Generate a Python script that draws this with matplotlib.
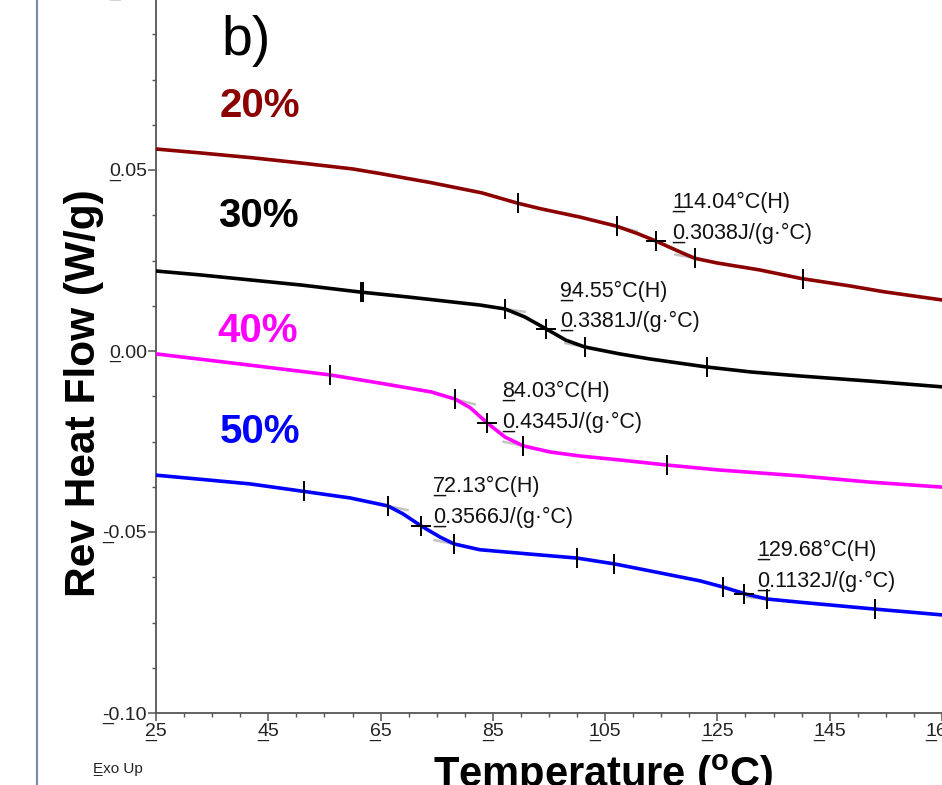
import numpy as np
import matplotlib
matplotlib.use("Agg")
import matplotlib.pyplot as plt
from matplotlib.transforms import IdentityTransform
from matplotlib.lines import Line2D

plt.rcParams['font.family'] = ['Liberation Sans', 'DejaVu Sans']
plt.rcParams['axes.unicode_minus'] = False
plt.rcParams['mathtext.fontset'] = 'custom'
plt.rcParams['mathtext.rm'] = 'Liberation Sans'
plt.rcParams['mathtext.bf'] = 'Liberation Sans:bold'

# ---------------- data ----------------
x_ticks = [25, 45, 65, 85, 105, 125, 145, 165]
x_ticklabels = ["25", "45", "65", "85", "105", "125", "145", "165"]
y_ticks = [-0.10, -0.05, 0.00, 0.05, 0.10]
y_ticklabels = ["-0.10", "-0.05", "0.00", "0.05", "0.10"]

series_names = ["20%", "30%", "40%", "50%"]
series_colors = ["#8b0000", "#000000", "#ff00ff", "#0000ff"]

T_20 = [25, 33, 42, 51, 60, 65, 74, 83, 89.5, 93.5, 100.5, 107, 111, 114, 118, 121, 125, 132.5, 140, 148.5, 154.5, 165]
V_20 = [0.0558, 0.0547, 0.0534, 0.0519, 0.0503, 0.0490, 0.0465, 0.0437, 0.0408, 0.0393, 0.0370, 0.0345, 0.0323, 0.0304, 0.0276, 0.0256, 0.0243, 0.0224, 0.0200, 0.0180, 0.0164, 0.0141]

T_30 = [25, 33, 42, 51, 61.3, 70, 77.5, 82.7, 87.2, 90.7, 94.5, 98, 101.4, 107.6, 113, 123, 131, 139.7, 152, 165]
V_30 = [0.0221, 0.0210, 0.0196, 0.0182, 0.0163, 0.0149, 0.0136, 0.0127, 0.0116, 0.0094, 0.0061, 0.0030, 0.0011, -0.0008, -0.0022, -0.0044, -0.0058, -0.0069, -0.0083, -0.0099]

T_40 = [25, 41.7, 56, 65, 74, 78.3, 81, 84, 87.2, 90.4, 95.2, 100.5, 107.6, 116, 125.5, 139.7, 152, 165]
V_40 = [-0.0008, -0.0039, -0.0066, -0.0089, -0.0113, -0.0133, -0.0157, -0.0199, -0.0238, -0.0262, -0.0279, -0.0290, -0.0301, -0.0315, -0.0329, -0.0345, -0.0362, -0.0376]

T_50 = [25, 41.7, 51.4, 59.6, 66.3, 69, 72.2, 75.6, 78.1, 82.7, 91.6, 100, 106.6, 114.8, 121.9, 126, 129.9, 133.8, 139.7, 153.1, 165]
V_50 = [-0.0343, -0.0367, -0.0388, -0.0406, -0.0428, -0.0450, -0.0483, -0.0514, -0.0533, -0.0549, -0.0561, -0.0572, -0.0588, -0.0613, -0.0635, -0.0652, -0.0671, -0.0685, -0.0694, -0.0713, -0.0729]

# transitions: (onset, Tg, end) per series
trans_20 = [(107.1, 114.04, 121.0)]
trans_30 = [(87.2, 94.55, 101.4)]
trans_40 = [(78.3, 84.03, 90.4)]
trans_50 = [(66.3, 72.13, 78.1), (126.0, 129.68, 133.8)]

# other analysis ticks
extra_20 = [89.5, 140.2]
extra_30 = [61.5, 61.8, 123.1]
extra_40 = [56.0, 116.0]
extra_50 = [51.4, 100.0, 106.6, 153.1]

ann_20 = [("114.04°C(H)", "0.3038J/(g·°C)")]
ann_30 = [("94.55°C(H)", "0.3381J/(g·°C)")]
ann_40 = [("84.03°C(H)", "0.4345J/(g·°C)")]
ann_50 = [("72.13°C(H)", "0.3566J/(g·°C)"), ("129.68°C(H)", "0.1132J/(g·°C)")]

# ---------------- layout (pixels) ----------------
W, H = 942, 785
ann_pos_20 = [(672, 208, 239)]
ann_pos_30 = [(560, 297, 327)]
ann_pos_40 = [(502, 397, 428)]
ann_pos_50 = [(433, 492, 523), (757, 556, 587)]
name_pos = [(220, 117), (218, 227), (217, 342), (220, 443)]

fig = plt.figure(figsize=(W / 100, H / 100), dpi=100)
ax = fig.add_axes([156 / W, 72 / H, (W - 156) / W, 724 / H])
ax.set_xlim(25, 165)
ax.set_ylim(-0.10, 0.10)
for s in ("top", "right"):
    ax.spines[s].set_visible(False)
for s in ("left", "bottom"):
    ax.spines[s].set_color("#555555")
    ax.spines[s].set_linewidth(1.3)

ax.set_xticks(x_ticks)
ax.set_xticklabels(x_ticklabels)
ax.set_xticks(np.arange(25, 166, 5), minor=True)
ax.set_yticks(y_ticks)
ax.set_yticklabels(y_ticklabels)
ax.set_yticks(np.arange(-0.10, 0.1001, 0.0125), minor=True)
ax.tick_params(which="major", direction="out", length=6, width=1.1, color="#555555",
               labelsize=14, labelcolor="#222222")
ax.tick_params(which="minor", direction="out", length=3.2, width=1.0, color="#555555")
ax.tick_params(axis="y", pad=0.5)
ax.tick_params(axis="x", pad=1.5)

T_all = [T_20, T_30, T_40, T_50]
V_all = [V_20, V_30, V_40, V_50]
trans_all = [trans_20, trans_30, trans_40, trans_50]
extra_all = [extra_20, extra_30, extra_40, extra_50]
ann_all = [ann_20, ann_30, ann_40, ann_50]
ann_pos_all = [ann_pos_20, ann_pos_30, ann_pos_40, ann_pos_50]

underline_items = []

for T, V, col, trans, extra in zip(T_all, V_all, series_colors, trans_all, extra_all):
    T = np.asarray(T); V = np.asarray(V)
    ax.plot(T, V, color=col, lw=2.6, zorder=3, solid_capstyle="round", solid_joinstyle="round")
    # grey tangent extrapolations
    for (on, tg, en) in trans:
        a0, a1 = on - 6, on
        s = (np.interp(a1, T, V) - np.interp(a0, T, V)) / (a1 - a0)
        xs = np.array([on - 1.0, on + 3.5])
        ax.plot(xs, np.interp(on, T, V) + s * (xs - on), color="#c4c4c4", lw=1.8, zorder=2)
        b0, b1 = en, en + 6
        s2 = (np.interp(b1, T, V) - np.interp(b0, T, V)) / (b1 - b0)
        xs2 = np.array([en - 3.5, en + 1.0])
        ax.plot(xs2, np.interp(en, T, V) + s2 * (xs2 - en), color="#c4c4c4", lw=1.8, zorder=2)
    ticks = list(extra) + [t[0] for t in trans] + [t[2] for t in trans]
    ticks = np.asarray(ticks)
    ax.plot(ticks, np.interp(ticks, T, V), ls="none", marker="|", ms=14, mew=1.4,
            color="black", zorder=4)
    tgs = np.asarray([t[1] for t in trans])
    ax.plot(tgs, np.interp(tgs, T, V), ls="none", marker="+", ms=15, mew=1.4,
            color="black", zorder=4)

def px(x, y):
    return x / W, 1 - y / H

# annotations
for anns, poss in zip(ann_all, ann_pos_all):
    for (l1, l2), (x, b1, b2) in zip(anns, poss):
        for txt, b in ((l1, b1), (l2, b2)):
            t = fig.text(*px(x, b), txt, ha="left", va="baseline", fontsize=15.5, color="#111111")
            underline_items.append(t)

# series names
for name, col, (x, b) in zip(series_names, series_colors, name_pos):
    fig.text(*px(x, b), name, ha="left", va="baseline", fontsize=29, fontweight="bold", color=col)

fig.text(*px(221, 55), "b)", ha="left", va="baseline", fontsize=40, color="black")

fig.text(*px(84, 393), "Rev Heat Flow (W/g)", rotation=90, ha="center", va="center",
         fontsize=30.5, fontweight="bold", color="black")
fig.text(*px(433, 787), r"Temperature ($\mathbf{^{o}}$C)", ha="left", va="baseline",
         fontsize=30, fontweight="bold", color="black")

exo = fig.text(*px(93, 773), "Exo Up", ha="left", va="baseline", fontsize=11, color="#222222")
underline_items.append(exo)

# left frame line
fig.add_artist(Line2D([37 / W, 37 / W], [0, 1], transform=fig.transFigure,
                      color="#7d8ca6", lw=1.6))

fig.canvas.draw()
renderer = fig.canvas.get_renderer()
for t in list(ax.get_xticklabels()) + list(ax.get_yticklabels()):
    if t.get_text():
        underline_items.append(t)
for t in underline_items:
    bb = t.get_window_extent(renderer)
    fp = t.get_fontproperties()
    _, _, d = renderer.get_text_width_height_descent("lp", fp, ismath=False)
    fig.text(bb.x0, bb.y0 + d, "_", transform=IdentityTransform(), ha="left", va="baseline",
             fontproperties=fp, color=t.get_color())

fig.savefig("out.png", dpi=100)
